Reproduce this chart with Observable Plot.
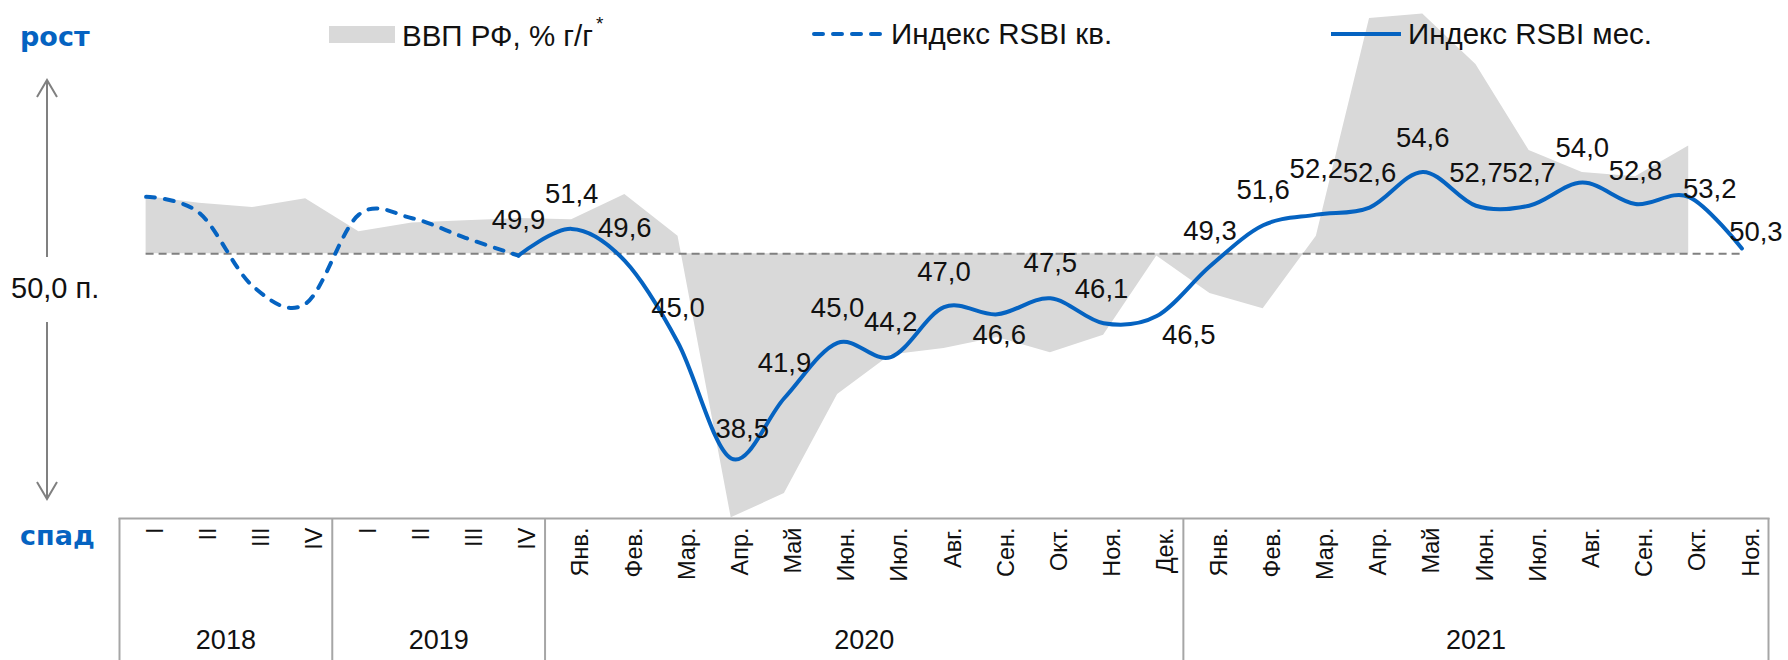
<!DOCTYPE html>
<html><head><meta charset="utf-8">
<script src="https://cdn.jsdelivr.net/npm/d3@7"></script>
<script src="https://cdn.jsdelivr.net/npm/@observablehq/plot@0.6"></script>
<style>
body{margin:0;background:#fff;}
#wrap{position:relative;width:1788px;height:660px;font-family:"Liberation Sans",Arial,sans-serif;color:#111;overflow:hidden;}
#wrap svg{display:block;}
.ann{position:absolute;white-space:nowrap;line-height:1;}
.blue{color:#0563C1;font-family:"DejaVu Sans",sans-serif;font-weight:bold;font-size:27px;}
.leg{font-size:29.5px;}
</style></head><body><div id="wrap"></div>
<script>
// ---------- data ----------
const slotLabels = ["I","II","III","IV","I","II","III","IV",
  "Янв.","Фев.","Мар.","Апр.","Май","Июн.","Июл.","Авг.","Сен.","Окт.","Ноя.","Дек.",
  "Янв.","Фев.","Мар.","Апр.","Май","Июн.","Июл.","Авг.","Сен.","Окт.","Ноя."];
const years = ["2018","2019","2020","2021"];
const yearSlotCounts = [4, 4, 12, 11];
// quarterly RSBI, 2018Q1..2019Q4
const rsbiQuarterly = [53.2, 52.3, 48.2, 47.2, 52.2, 52.0, 50.9, 49.9];
// monthly RSBI, starting at the 2019Q4 slot, then Jan 2020 .. Nov 2021
const rsbiMonthly = [49.9, 51.4, 49.6, 45.0, 38.5, 41.9, 45.0, 44.2, 47.0, 46.6, 47.5, 46.1, 46.5,
  49.3, 51.6, 52.2, 52.6, 54.6, 52.7, 52.7, 54.0, 52.8, 53.2, 50.3];
const monthlyStartSlot = 7;
// GDP, % y/y (secondary axis): 2018Q1..2019Q4, then Jan 2020 .. Oct 2021
const gdpYoY = [2.6, 2.3, 2.1, 2.5, 1.0, 1.4, 1.5, 1.6,
  1.55, 2.7, 0.8, -12.0, -10.9, -6.4, -4.6, -4.3, -3.8, -4.5, -3.7, -0.1,
  -1.8, -2.5, 0.8, 10.7, 10.9, 8.6, 4.7, 3.7, 3.5, 4.9];
// label placement offsets (px) for the monthly data labels
const labelDx = [0,0,0,0,11,0,0,0,0,2,0,-2,32,0,0,0,0,0,0,0,0,0,21,14];
const labelDy = [-35,-35,-33,-35,-29,-35,-35,-35,-35,21,-35,-34,19,-35,-35,-45,-34,-34,-33,-33,-34,-33,-8,-16];

// ---------- settings ----------
const BLUE = "#0563C1";
const baseline = 50;
const gdpToIndex = 1.236; // secondary axis: index points per 1% GDP
const FONT = "Liberation Sans, Arial, sans-serif";
const fmt = v => v.toFixed(1).replace(".", ",");

const qData = rsbiQuarterly.map((v, i) => ({i, v}));
const mData = rsbiMonthly.map((v, k) => ({i: k + monthlyStartSlot, v, k}));
const gData = gdpYoY.map((g, i) => ({i, g}));
const xDomain = [-0.5, slotLabels.length - 0.5];
const common = {width: 1788, marginLeft: 119, marginRight: 20, marginTop: 0, marginBottom: 0};

const chart = Plot.plot({
  ...common,
  height: 518,
  x: {domain: xDomain, axis: null},
  y: {domain: [35.13, 64.23], axis: null},
  style: {background: "transparent", fontFamily: FONT, overflow: "visible"},
  marks: [
    Plot.areaY(gData, {x: "i", y1: baseline, y2: d => baseline + d.g * gdpToIndex, fill: "#D9D9D9"}),
    Plot.ruleY([baseline], {x1: 0, x2: slotLabels.length - 1, stroke: "#808080", strokeWidth: 2, strokeDasharray: "8,5"}),
    Plot.line(qData, {x: "i", y: "v", curve: "cardinal", stroke: BLUE, strokeWidth: 4, strokeDasharray: "9,10", strokeLinecap: "round"}),
    Plot.line(mData, {x: "i", y: "v", curve: "cardinal", stroke: BLUE, strokeWidth: 4}),
    ...mData.map((d, k) => Plot.text([d], {x: "i", y: "v", text: e => fmt(e.v), dx: labelDx[k], dy: labelDy[k], fontSize: 27.5, fill: "#111"}))
  ]
});

let acc = 0;
const yearCenters = yearSlotCounts.map(n => { const c = acc + n / 2 - 0.5; acc += n; return c; });
acc = 0;
const boundaries = [-0.5, ...yearSlotCounts.map(n => { acc += n; return acc - 0.5; })];

const table = Plot.plot({
  ...common,
  height: 142,
  x: {domain: xDomain, axis: null},
  y: {domain: [0, 1], axis: null},
  style: {background: "transparent", fontFamily: FONT, overflow: "visible"},
  marks: [
    Plot.frame({anchor: "top", stroke: "#A6A6A6", strokeWidth: 2}),
    Plot.ruleX(boundaries, {stroke: "#A6A6A6", strokeWidth: 2}),
    Plot.text(slotLabels, {x: (d, i) => i, text: d => d, frameAnchor: "top", rotate: -90, textAnchor: "end", dy: 9, fontSize: 23.5, fill: "#111"}),
    Plot.text(years, {x: (d, i) => yearCenters[i], text: d => d, frameAnchor: "bottom", dy: -12, fontSize: 27, fill: "#111"})
  ]
});

const wrap = document.getElementById("wrap");
wrap.appendChild(chart);
wrap.appendChild(table);

// annotations & legend
const ann = (html, css, cls) => { const el = document.createElement("div"); el.className = "ann " + (cls || ""); el.innerHTML = html; Object.assign(el.style, css); wrap.appendChild(el); return el; };
ann("рост", {left: "20px", top: "23px"}, "blue");
ann("спад", {left: "20px", top: "522px"}, "blue");
ann("50,0 п.", {left: "11px", top: "274px", fontSize: "29px"});
ann('ВВП РФ, % г/г<sup style="font-size:19px;position:relative;top:-5px;margin-left:3px">*</sup>', {left: "402px", top: "19px"}, "leg");
ann("Индекс RSBI кв.", {left: "891px", top: "19px"}, "leg");
ann("Индекс RSBI мес.", {left: "1408px", top: "19px"}, "leg");

const ns = "http://www.w3.org/2000/svg";
const ov = document.createElementNS(ns, "svg");
ov.setAttribute("width", 1788); ov.setAttribute("height", 660);
Object.assign(ov.style, {position: "absolute", left: 0, top: 0, pointerEvents: "none"});
ov.innerHTML = `
 <g stroke="#808080" stroke-width="2" fill="none">
  <path d="M47 80V257 M37 97L47 80L57 97"/>
  <path d="M47 322V499 M37 482L47 499L57 482"/>
 </g>
 <rect x="329" y="26" width="66" height="17" fill="#D9D9D9"/>
 <path d="M814 34H884" stroke="${BLUE}" stroke-width="4" stroke-dasharray="9,10" stroke-linecap="round"/>
 <path d="M1331 34H1401" stroke="${BLUE}" stroke-width="4"/>`;
wrap.appendChild(ov);
</script></body></html>
